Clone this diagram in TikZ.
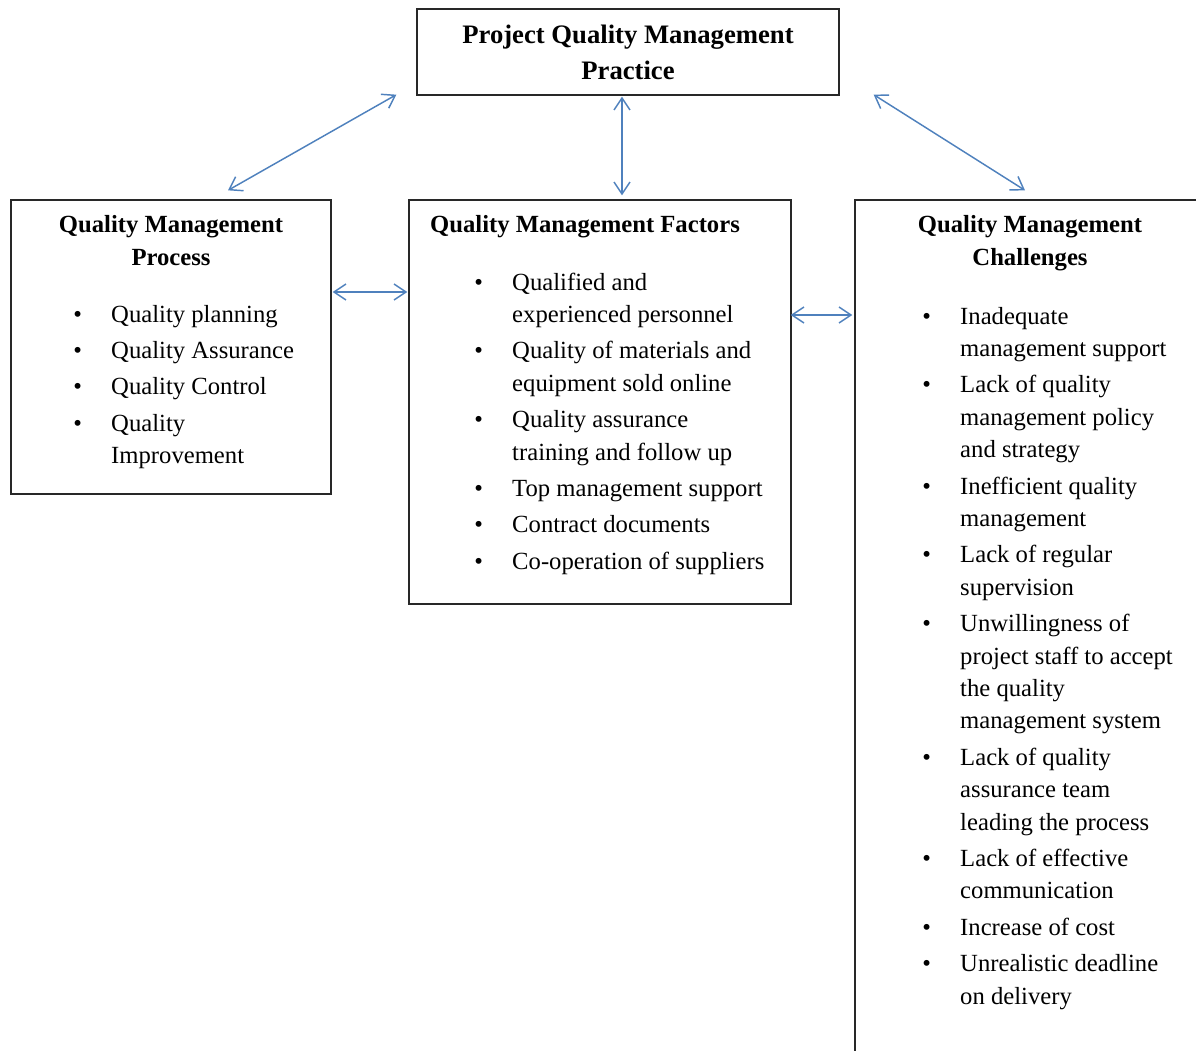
\documentclass[tikz,border=0pt]{standalone}
\usepackage{fontspec}
\setmainfont{Liberation Serif}
\usetikzlibrary{positioning,arrows.meta,calc}
\definecolor{LinkBlue}{RGB}{79,129,189}
\definecolor{BoxGray}{RGB}{40,40,40}
\newcommand{\qmbody}{\fontsize{18.5}{24.3}\selectfont}
\tikzset{
  qmbox/.style={
    draw=BoxGray,
    line width=1pt,
    inner sep=0pt
  },
  headtext/.style={font=\fontsize{18.5}{24.8}\selectfont\bfseries, inner sep=0pt, anchor=base},
  listtext/.style={font=\qmbody, inner sep=0pt, anchor=base west},
  link/.style={{Straight Barb[length=9pt,width=12pt]}-{Straight Barb[length=9pt,width=12pt]},line width=1.1pt,draw=LinkBlue}
}

\begin{document}
\begin{tikzpicture}[x=0.75pt,y=-0.75pt]
    \useasboundingbox (0,0) rectangle (1196,1050);
    \clip (0,0) rectangle (1196,1050);
    % boxes
    \node[qmbox,minimum width=316.5pt,minimum height=64.5pt,align=center,
      font=\fontsize{20}{27}\selectfont\bfseries] (title) at (628,52)
      {Project Quality Management\\Practice};
    \node[qmbox,minimum width=240pt,minimum height=220.5pt] (qmp) at (171,347) {};
    \node[qmbox,minimum width=286.5pt,minimum height=303pt] (qmf) at (600,402) {};
    \node[qmbox,minimum width=262.5pt,minimum height=675pt] (qmc) at (1030,650) {};
    % headers
    \node[headtext] (qmphead) at (171,232)
      {\begin{tabular}[t]{@{}c@{}}Quality Management\\Process\end{tabular}};
    \node[headtext] (qmfhead) at (585,232) {Quality Management Factors};
    \node[headtext] (qmchead) at (1030,232)
      {\begin{tabular}[t]{@{}c@{}}Quality Management\\Challenges\end{tabular}};
    % lists
    \node[listtext] (qmplist) at (73,322) {\begin{tabular}[t]{@{}l@{\hspace{22pt}}l@{}}
      \textbullet & Quality planning\\[3pt]
      \textbullet & Quality Assurance\\[3pt]
      \textbullet & Quality Control\\[3pt]
      \textbullet & Quality\\
                  & Improvement
    \end{tabular}};
    \node[listtext] (qmflist) at (474,290) {\begin{tabular}[t]{@{}l@{\hspace{22pt}}l@{}}
      \textbullet & Qualified and\\
                  & experienced personnel\\[3pt]
      \textbullet & Quality of materials and\\
                  & equipment sold online\\[3pt]
      \textbullet & Quality assurance\\
                  & training and follow up\\[3pt]
      \textbullet & Top management support\\[3pt]
      \textbullet & Contract documents\\[3pt]
      \textbullet & Co-operation of suppliers
    \end{tabular}};
    \node[listtext] (qmclist) at (922,324) {\begin{tabular}[t]{@{}l@{\hspace{22pt}}l@{}}
      \textbullet & Inadequate\\
                  & management support\\[3pt]
      \textbullet & Lack of quality\\
                  & management policy\\
                  & and strategy\\[3pt]
      \textbullet & Inefficient quality\\
                  & management\\[3pt]
      \textbullet & Lack of regular\\
                  & supervision\\[3pt]
      \textbullet & Unwillingness of\\
                  & project staff to accept\\
                  & the quality\\
                  & management system\\[3pt]
      \textbullet & Lack of quality\\
                  & assurance team\\
                  & leading the process\\[3pt]
      \textbullet & Lack of effective\\
                  & communication\\[3pt]
      \textbullet & Increase of cost\\[3pt]
      \textbullet & Unrealistic deadline\\
                  & on delivery
    \end{tabular}};
    % connectors
    \draw[link] ($(title.south west)+(-20,-1)$) -- ($(qmp.north)+(57,-9)$);
    \draw[link] ($(title.south)+(-6,1)$) -- ($(qmf.north)+(22,-4)$);
    \draw[link] ($(title.south east)+(34,-1)$) -- ($(qmc.north)+(-5,-9)$);
    \draw[link] ($(qmp.east)+(1,-55)$) -- ($(qmf.west)+(-1,-110)$);
    \draw[link] ($(qmf.east)+(-1,-87)$) -- ($(qmc.west)+(-2,-335)$);
  \end{tikzpicture}
\end{document}
